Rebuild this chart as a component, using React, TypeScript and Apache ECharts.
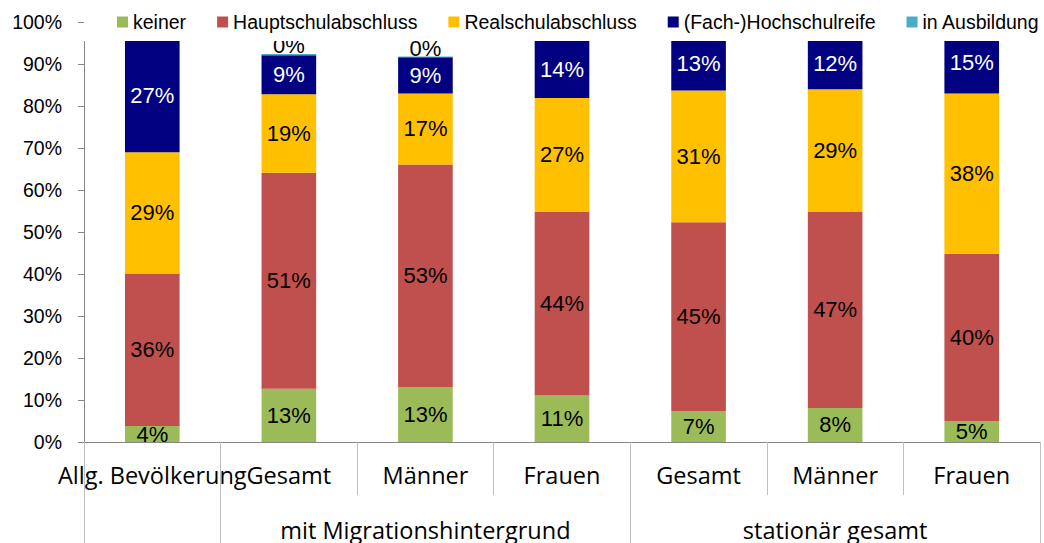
import React, { useEffect, useRef } from "react";
import * as echarts from "echarts";

const categories = ["Allg. Bevölkerung", "Gesamt", "Männer", "Frauen", "Gesamt", "Männer", "Frauen"];
const groupLabels = ["", "", "mit Migrationshintergrund", "", "", "stationär gesamt", ""];
const groupStartIndices = [0, 1, 4];

const seriesNames = ["keiner", "Hauptschulabschluss", "Realschulabschluss", "(Fach-)Hochschulreife", "in Ausbildung"];
const keiner = [3.8, 12.7, 13.1, 11.1, 7.4, 8.1, 5.0];
const hauptschule = [36.3, 51.4, 53.0, 43.7, 44.9, 46.8, 39.8];
const realschule = [28.9, 18.7, 16.9, 27.1, 31.4, 29.1, 38.2];
const hochschulreife = [26.9, 9.3, 8.6, 13.6, 12.7, 12.2, 14.8];
const inAusbildung = [4.1, 0.3, 0.2, 4.5, 3.6, 3.8, 2.2];

const colors = ["#9BBB59", "#C0504D", "#FFC000", "#000080", "#4BACC6"];
const labelColors = ["#000", "#000", "#000", "#fff", "#000"];

const ARIAL = "'Liberation Sans', Arial, sans-serif";
const CALIBRI = "'Open Sans', 'Noto Sans', sans-serif";

export default function App() {
  const ref = useRef<HTMLDivElement>(null);

  useEffect(() => {
    if (!ref.current) return;
    const chart = echarts.init(ref.current, null, { renderer: "svg" });
    const allData = [keiner, hauptschule, realschule, hochschulreife, inAusbildung];

    const series = allData.map((d, i) => ({
      name: seriesNames[i],
      type: "bar",
      stack: "total",
      barWidth: "40%",
      data: d,
      itemStyle: { color: colors[i] },
      label: {
        show: true,
        position: i === 4 ? "top" : "inside",
        distance: i === 4 ? -3 : 0,
        formatter: (p: any) => Math.round(p.value) + "%",
        color: labelColors[i],
        fontSize: 22,
        fontFamily: ARIAL,
      },
    }));

    chart.setOption({
      animation: false,
      backgroundColor: "#fff",
      legend: {
        data: seriesNames,
        left: 84,
        right: 0,
        top: 0,
        padding: [12, 0, 9, 33],
        backgroundColor: "#fff",
        itemGap: 31,
        itemWidth: 11,
        itemHeight: 11,
        icon: "rect",
        textStyle: { fontSize: 19.5, fontFamily: ARIAL, color: "#000", lineHeight: 20 },
        z: 10,
      },
      grid: { left: 84, right: 4, top: 22, bottom: 101 },
      xAxis: [
        {
          type: "category",
          data: categories,
          position: "bottom",
          axisLine: { show: true, lineStyle: { color: "#868686", width: 1 } },
          axisTick: { show: true, length: 53, lineStyle: { color: "#BFBFBF" } },
          axisLabel: {
            interval: 0,
            hideOverlap: false,
            margin: 21,
            fontSize: 23.5,
            fontFamily: CALIBRI,
            color: "#000",
          },
        },
        {
          type: "category",
          data: groupLabels,
          position: "bottom",
          axisLine: { show: false },
          axisTick: {
            show: true,
            length: 101,
            interval: (index: number) => groupStartIndices.indexOf(index) >= 0,
            lineStyle: { color: "#BFBFBF" },
          },
          axisLabel: {
            interval: 0,
            hideOverlap: false,
            margin: 76,
            fontSize: 23.5,
            fontFamily: CALIBRI,
            color: "#000",
          },
        },
      ],
      yAxis: {
        type: "value",
        min: 0,
        max: 100,
        interval: 10,
        axisLine: { show: true, lineStyle: { color: "#868686" } },
        axisTick: { show: true, length: 6, lineStyle: { color: "#868686" } },
        splitLine: { show: false },
        axisLabel: {
          formatter: "{value}%",
          fontSize: 19.5,
          fontFamily: ARIAL,
          color: "#000",
          margin: 22,
        },
      },
      series,
    });

    return () => chart.dispose();
  }, []);

  return (
    <div
      ref={ref}
      style={{ position: "fixed", left: 0, top: 0, width: 1044, height: 543 }}
    />
  );
}
